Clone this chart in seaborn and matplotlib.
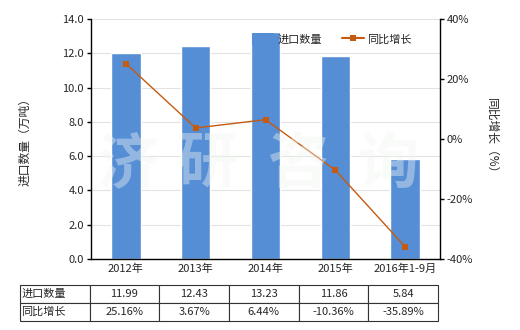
import matplotlib
matplotlib.use("Agg")
import matplotlib.pyplot as plt
import seaborn as sns
import pandas as pd
import numpy as np
from matplotlib.lines import Line2D
from matplotlib.patches import Patch

categories = ["2012年", "2013年", "2014年", "2015年", "2016年1-9月"]
import_qty = [11.99, 12.43, 13.23, 11.86, 5.84]
yoy_growth = [25.16, 3.67, 6.44, -10.36, -35.89]
qty_labels = ["11.99", "12.43", "13.23", "11.86", "5.84"]
growth_labels = ["25.16%", "3.67%", "6.44%", "-10.36%", "-35.89%"]
watermark_chars = ["济", "研", "咨", "询"]

sns.set_theme(style="white")
plt.rcParams['font.family'] = ['Noto Sans CJK SC', 'DejaVu Sans']
plt.rcParams['axes.unicode_minus'] = False

BAR = "#558ED5"
LINE = "#C55A11"
FS = 8

df = pd.DataFrame({"cat": categories, "qty": import_qty, "yoy": yoy_growth})

fig = plt.figure(figsize=(5.2, 3.3), dpi=100)
ax = fig.add_axes([91/520, 1-259/330, 349/520, 240/330])

sns.barplot(data=df, x="cat", y="qty", color=BAR, width=0.42, saturation=1, ax=ax, zorder=2)
ax.set_ylim(0, 14)
ax.set_yticks(np.arange(0, 14.01, 2))
ax.set_yticklabels([f"{v:.1f}" for v in np.arange(0, 14.01, 2)], fontsize=FS)
ax.set_xlim(-0.5, 4.5)
ax.set_xlabel("")
ax.set_ylabel("进口数量（万吨）", fontsize=FS+0.5)
ax.yaxis.set_label_coords(-0.17, 0.5)
ax.tick_params(axis='x', labelsize=FS, length=0, pad=3)
ax.tick_params(axis='y', length=3, width=1, pad=2, left=True, color='black')
ax.grid(axis='y', color='#e3e3e3', linewidth=0.8, zorder=0)
ax.set_axisbelow(True)
for s in ['top', 'right']:
    ax.spines[s].set_visible(False)
for s in ['left', 'bottom']:
    ax.spines[s].set_color('black')
    ax.spines[s].set_linewidth(1)

ax2 = ax.twinx()
x = np.arange(len(categories))
sns.lineplot(x=x, y=yoy_growth, color=LINE, linewidth=1, marker='s', markersize=4.5,
             markeredgewidth=0, ax=ax2, zorder=5)
ax2.set_ylim(-40, 40)
ax2.set_yticks([-40, -20, 0, 20, 40])
ax2.set_yticklabels(["-40%", "-20%", "0%", "20%", "40%"], fontsize=FS)
ax2.set_ylabel("同比增长（%）", fontsize=FS+0.5, rotation=-90, labelpad=18)
ax2.tick_params(axis='y', length=3, width=1, pad=2, right=True, color='black')
for s in ['top', 'left', 'bottom']:
    ax2.spines[s].set_visible(False)
ax2.spines['right'].set_color('black')
ax2.spines['right'].set_linewidth(1)
ax2.grid(False)

# watermark
for ch, px in zip(watermark_chars, [128, 207, 298, 388]):
    fig.text(px/520, 1-165/330, ch, fontsize=44, fontweight='bold', color='#f2f6f2',
             alpha=0.4, ha='center', va='center', zorder=10)

handles = [Patch(facecolor=BAR, edgecolor='none', label="进口数量"),
           Line2D([0], [0], color=LINE, marker='s', markersize=4, markeredgewidth=0, lw=1.5, label="同比增长")]
ax2.legend(handles=handles, loc='upper center', bbox_to_anchor=(0.69, 0.985), ncol=2, frameon=False,
           fontsize=FS, handlelength=2.0, handleheight=1.4, columnspacing=1.8, handletextpad=0.3)

# table
cell_text = [["进口数量"] + qty_labels, ["同比增长"] + growth_labels]
tb = ax.table(cellText=cell_text, cellLoc='center',
              colWidths=[70/349] + [70/349]*5,
              bbox=[(20-91)/349, (259-321)/240, 418/349, 36/240])
tb.auto_set_font_size(False)
for (r, c), cell in tb.get_celld().items():
    cell.set_fontsize(FS)
    cell.set_linewidth(0.8)
    cell.set_edgecolor('#333333')
    if c == 0:
        cell.set_text_props(ha='left')
        cell.PAD = 0.02

fig.savefig("out.png", dpi=100)
